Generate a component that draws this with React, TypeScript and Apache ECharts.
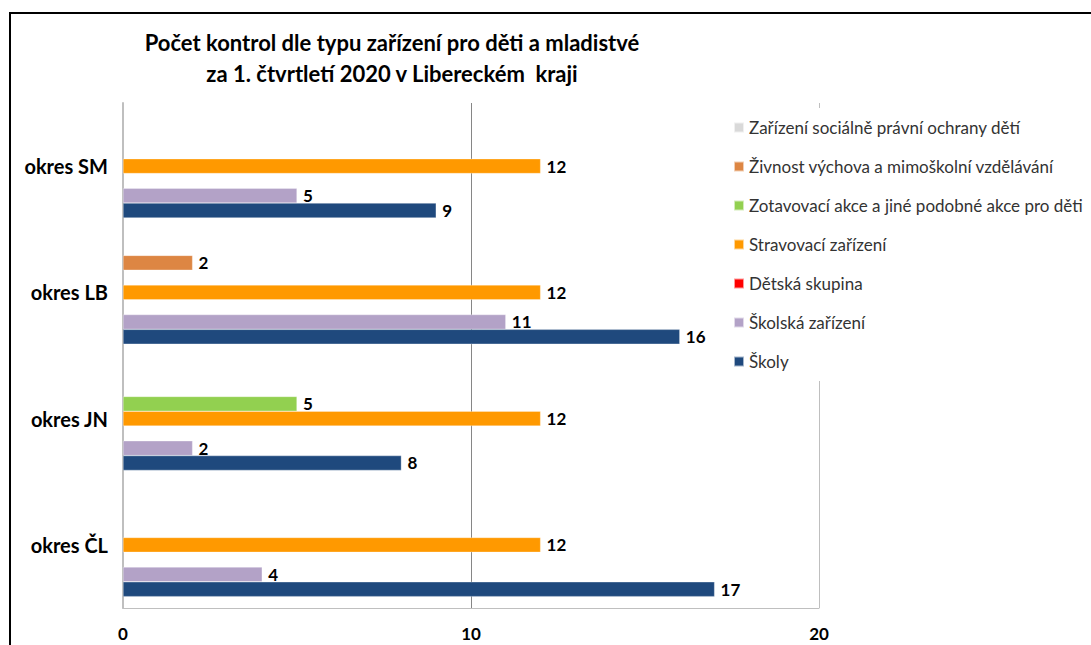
import React, { useEffect, useRef } from "react";
import * as echarts from "echarts";

const categories = ["okres ČL", "okres JN", "okres LB", "okres SM"];
const seriesNames = [
  "Zařízení sociálně právní ochrany dětí",
  "Živnost výchova a mimoškolní vzdělávání",
  "Zotavovací akce a jiné podobné akce pro děti",
  "Stravovací zařízení",
  "Dětská skupina",
  "Školská zařízení",
  "Školy",
];
const socialni: (number | null)[] = [null, null, null, null];
const zivnost: (number | null)[] = [null, null, 2, null];
const zotavovaci: (number | null)[] = [null, 5, null, null];
const stravovaci: (number | null)[] = [12, 12, 12, 12];
const detska: (number | null)[] = [null, null, null, null];
const skolska: (number | null)[] = [4, 2, 11, 5];
const skoly: (number | null)[] = [17, 8, 16, 9];
const seriesValues = [socialni, zivnost, zotavovaci, stravovaci, detska, skolska, skoly];
const seriesColors = ["#d9d9d9", "#dd8643", "#92d050", "#ff9900", "#ff0000", "#b3a2c7", "#1f497d"];
const xTicks = { min: 0, max: 20, interval: 10 };
const titleLines = [
  "Počet kontrol dle typu zařízení pro děti a mladistvé",
  "za 1. čtvrtletí 2020 v Libereckém  kraji",
];

const FONT = "Lato, 'Noto Sans', sans-serif";

export default function App() {
  const ref = useRef<HTMLDivElement>(null);
  useEffect(() => {
    if (!ref.current) return;
    const chart = echarts.init(ref.current, null, { renderer: "svg" });
    chart.setOption({
      animation: false,
      backgroundColor: "#ffffff",
      textStyle: { fontFamily: FONT },
      graphic: [
        {
          type: "rect",
          shape: { x: 10, y: 13, width: 1200, height: 800 },
          style: { fill: "none", stroke: "#000", lineWidth: 2 },
          z: 100,
        },
        {
          type: "text",
          x: 392,
          y: 42,
          style: {
            text: titleLines[0],
            fontFamily: FONT,
            fontSize: 22,
            fontWeight: "bold",
            fill: "#000",
            textAlign: "center",
            textVerticalAlign: "middle",
          },
        },
        {
          type: "text",
          x: 392,
          y: 73,
          style: {
            text: titleLines[1],
            fontFamily: FONT,
            fontSize: 22,
            fontWeight: "bold",
            fill: "#000",
            textAlign: "center",
            textVerticalAlign: "middle",
          },
        },
      ],
      legend: {
        orient: "vertical",
        left: 728,
        top: 108,
        padding: [11, 4, 11, 5],
        backgroundColor: "#ffffff",
        itemWidth: 10,
        itemHeight: 10,
        itemGap: 22,
        icon: "rect",
        z: 10,
        textStyle: { fontFamily: FONT, fontSize: 17, color: "#333" },
        data: seriesNames,
      },
      grid: { left: 123, right: 272, top: 103, bottom: 37, containLabel: false },
      xAxis: {
        type: "value",
        min: xTicks.min,
        max: xTicks.max,
        interval: xTicks.interval,
        axisLine: { show: true, lineStyle: { color: "#bfbfbf", width: 1 } },
        axisTick: { show: false },
        axisLabel: { fontFamily: FONT, fontSize: 17, fontWeight: "bold", color: "#000", margin: 17 },
        splitLine: { show: true, lineStyle: { color: ["#bfbfbf", "#868686", "#bfbfbf"], width: 1 } },
      },
      yAxis: {
        type: "category",
        data: categories,
        axisLine: { show: true, lineStyle: { color: "#bfbfbf", width: 2 } },
        axisTick: { show: false },
        axisLabel: { fontFamily: FONT, fontSize: 20, fontWeight: "bold", color: "#000", margin: 15 },
      },
      series: seriesNames.map((name, i) => ({
        name,
        type: "bar",
        data: seriesValues[i],
        barGap: "0%",
        barCategoryGap: "18%",
        itemStyle: { color: seriesColors[i], borderColor: "rgba(255,255,255,0.6)", borderWidth: 0.5 },
        label: {
          show: true,
          position: "right",
          distance: 6,
          fontFamily: FONT,
          fontSize: 17,
          fontWeight: "bold",
          color: "#000",
        },
      })),
    });
    return () => chart.dispose();
  }, []);
  return (
    <div
      ref={ref}
      style={{ position: "absolute", left: 0, top: 0, width: 1091, height: 645 }}
    />
  );
}
